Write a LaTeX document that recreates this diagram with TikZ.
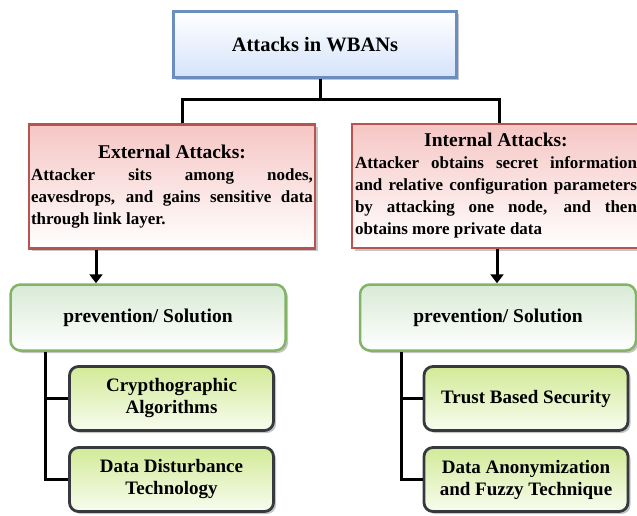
\documentclass[tikz,border=0pt]{standalone}
\usepackage{fontspec}
\setmainfont{Liberation Serif}
\usetikzlibrary{shadows,arrows.meta}
\definecolor{blueedge}{HTML}{6C8EBF}
\definecolor{bluefill}{HTML}{D4E3FA}
\definecolor{rededge}{HTML}{B85450}
\definecolor{redfill}{HTML}{F5C6C4}
\definecolor{greenedge}{HTML}{82B366}
\definecolor{greenfill}{HTML}{D8EAD5}
\definecolor{limefill}{HTML}{D2EA97}
\definecolor{darkedge}{HTML}{36393D}
% paragraph set-up for the justified descriptions
\newcommand{\bodysetup}{\parindent=0pt\relax\hyphenpenalty=10000\relax
  \exhyphenpenalty=10000\relax\tolerance=9999\relax\hbadness=10000\relax}
\newcommand{\boxhead}[1]{{\centering\fontsize{19.5}{22}\selectfont #1\par}}
\begin{document}
\begin{tikzpicture}[x=1pt,y=-1pt,font=\bfseries,
  shade/.style={drop shadow={shadow xshift=2.5pt,shadow yshift=-2.5pt,fill=black!45,opacity=0.5}},
  topbox/.style={draw=blueedge,line width=2.5pt,top color=white,bottom color=bluefill,shade,
    minimum width=283pt,minimum height=66pt,inner sep=0pt,font=\bfseries\fontsize{20.5}{22}\selectfont},
  attackbox/.style={draw=rededge,line width=2.5pt,top color=redfill,bottom color=white,shade,
    inner sep=0pt,minimum height=124pt,text width=282pt,align=justify,
    font=\bfseries\fontsize{17}{22}\selectfont},
  solbox/.style={draw=greenedge,line width=2.5pt,rounded corners=10pt,top color=greenfill,bottom color=white,shade,
    minimum height=66pt,inner sep=0pt,font=\bfseries\fontsize{19.5}{22}\selectfont},
  leafbox/.style={draw=darkedge,line width=2.8pt,rounded corners=9pt,top color=limefill,bottom color=white!85!limefill,shade,
    minimum width=204pt,minimum height=64pt,inner sep=0pt,align=center,font=\bfseries\fontsize{19}{22}\selectfont},
  conn/.style={line width=3pt,black},
  arrow/.style={conn,-{Triangle[width=13pt,length=9pt]}}]
\useasboundingbox (0,0) rectangle (637,516);

% root
\node[topbox] (top) at (315,44.5) {Attacks in WBANs};

% attack classes
\node[attackbox,minimum width=286pt] (ext) at (172,186.5)
  {\bodysetup\boxhead{External Attacks:}Attacker sits among nodes,\linebreak
   eavesdrops, and gains sensitive data\linebreak through link layer.\par};
\node[attackbox,minimum width=288pt] (int) at (496,186)
  {\bodysetup\boxhead{Internal Attacks:}Attacker obtains secret information\linebreak
   and relative configuration parameters\linebreak by attacking one node, and then\linebreak
   obtains more private data\par};

% prevention / solution
\node[solbox,minimum width=275pt] (sol1) at (148,317.5) {prevention/ Solution};
\node[solbox,minimum width=276pt] (sol2) at (498,317.5) {prevention/ Solution};

% leaves
\node[leafbox] (c1) at (171.5,398.5) {Crypthographic\\Algorithms};
\node[leafbox] (c2) at (171.5,479.5) {Data Disturbance\\Technology};
\node[leafbox] (c3) at (526,398.5) {Trust Based Security};
\node[leafbox] (c4) at (526,479.5) {Data Anonymization\\and Fuzzy Technique};

% connectors
\coordinate (hub) at (320,100);
\coordinate (ax1) at (96,0);
\coordinate (ax2) at (497,0);
\coordinate (tx1) at (45,0);
\coordinate (tx2) at (401,0);
\draw[conn] (hub |- top.south) -- (hub);
\draw[conn] ([xshift=10pt]ext.north) |- (hub) -| ([xshift=3pt]int.north);
\draw[arrow] (ext.south -| ax1) -- (sol1.north -| ax1);
\draw[arrow] (int.south -| ax2) -- (sol2.north -| ax2);
\draw[conn] (sol1.south -| tx1) |- (c1.west);
\draw[conn] (sol1.south -| tx1) |- (c2.west);
\draw[conn] (sol2.south -| tx2) |- (c3.west);
\draw[conn] (sol2.south -| tx2) |- (c4.west);
\end{tikzpicture}
\end{document}
